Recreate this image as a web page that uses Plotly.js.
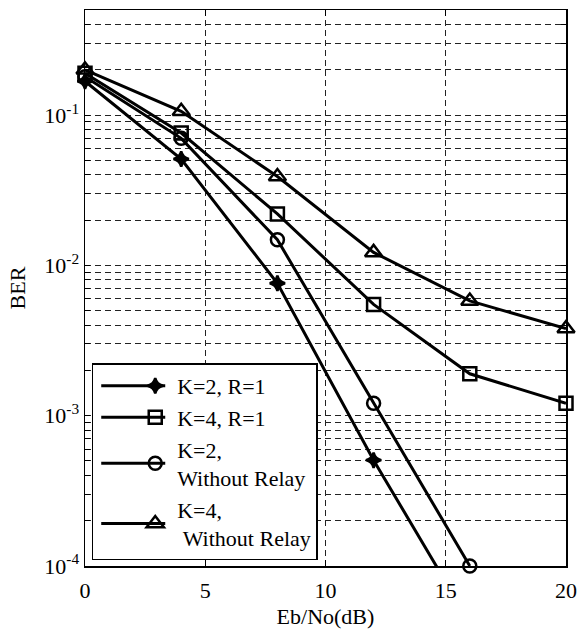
<!DOCTYPE html>
<html>
<head>
<meta charset="utf-8">
<script src="https://cdn.plot.ly/plotly-3.0.1.min.js"></script>
<style>html,body{margin:0;padding:0;background:#fff;}#chart{width:579px;height:630px;}</style>
</head>
<body>
<div id="chart"></div>
<script>
// ---- data ----
const snr = [0, 4, 8, 12, 16, 20];
const berK2R1 = [0.168, 0.051, 0.0076, 0.000506, 0.000042];
const berK4R1 = [0.19, 0.076, 0.022, 0.0055, 0.0019, 0.00121];
const berK2NoRelay = [0.18, 0.070, 0.0148, 0.00121, 0.0001];
const berK4NoRelay = [0.20, 0.106, 0.039, 0.0122, 0.0058, 0.0038];
const seriesNames = ["K=2, R=1", "K=4, R=1", "K=2,<br>Without Relay", "K=4,<br>\u00a0Without Relay"];
const xTicks = [0, 5, 10, 15, 20];
const decades = [-4, -3, -2, -1];

// y tick positions (decades + minor 2..9) and labels
const yTickVals = [], yTickText = [];
decades.forEach(d => {
  for (let m = 1; m <= 9; m++) {
    const v = m * Math.pow(10, d);
    if (v > 0.5) break;
    yTickVals.push(v);
    yTickText.push(m === 1 ? "10<sup>" + d + "</sup>" : "");
  }
});

const lineStyle = {color: "#000", width: 3};
function tr(y, name, sym, size, fill) {
  return {
    x: snr.slice(0, y.length), y: y, name: name, type: "scatter", mode: "lines+markers",
    line: lineStyle, cliponaxis: false,
    marker: {symbol: sym, size: size, color: fill,
             line: {color: "#000", width: 2.5}}
  };
}
const data = [
  tr(berK2R1, seriesNames[0], "star-diamond", 11, "#000"),
  tr(berK4R1, seriesNames[1], "square", 13, "rgba(255,255,255,0)"),
  tr(berK2NoRelay, seriesNames[2], "circle", 13, "rgba(255,255,255,0)"),
  tr(berK4NoRelay, seriesNames[3], "triangle-up", 15, "rgba(255,255,255,0)")
];

const FAM = "'Liberation Serif', 'Times New Roman', Times, serif";
const font = {family: FAM, size: 22, color: "#000"};
const layout = {
  width: 579, height: 630,
  margin: {l: 85, r: 13, t: 10, b: 64},
  paper_bgcolor: "#fff", plot_bgcolor: "#fff",
  font: font,
  showlegend: true,
  legend: {
    x: 0.014, y: 0.01, xanchor: "left", yanchor: "bottom",
    bgcolor: "#fff", bordercolor: "#000", borderwidth: 1.5,
    font: {family: FAM, size: 22, color: "#000"},
    itemwidth: 74, tracegroupgap: 3
  },
  xaxis: {
    range: [0, 20], tickvals: xTicks, ticktext: xTicks.map(String),
    showgrid: true, gridcolor: "#222", griddash: "6px,4px", gridwidth: 1,
    zeroline: false, showline: true, linecolor: "#000", linewidth: 1.5, mirror: "ticks",
    ticks: "inside", ticklen: 6, tickcolor: "#000", ticklabelstandoff: 4,
    title: {text: "Eb/No(dB)", font: font, standoff: 6},
    tickfont: font
  },
  yaxis: {
    type: "log", range: [-4, Math.log10(0.5)],
    tickmode: "array", tickvals: yTickVals, ticktext: yTickText,
    showgrid: true, gridcolor: "#222", griddash: "6px,4px", gridwidth: 1,
    zeroline: false, showline: true, linecolor: "#000", linewidth: 1.5, mirror: "ticks",
    ticks: "inside", ticklen: 5, tickcolor: "#000",
    title: {text: "BER", font: font, standoff: 12},
    tickfont: font
  }
};
Plotly.newPlot("chart", data, layout, {displayModeBar: false, staticPlot: true}).then(gd => {
  // lengthen the legend sample lines like the original figure
  gd.querySelectorAll(".legend .legendlines path").forEach(p => p.setAttribute("d", "M8,0h64"));
  gd.querySelectorAll(".legend .legendpoints path").forEach(p => {
    const t = p.getAttribute("transform") || "";
    p.setAttribute("transform", t.replace(/translate\(([-\d.]+),/, (m, a) => "translate(" + (parseFloat(a) + 20) + ","));
  });
});
</script>
</body>
</html>
